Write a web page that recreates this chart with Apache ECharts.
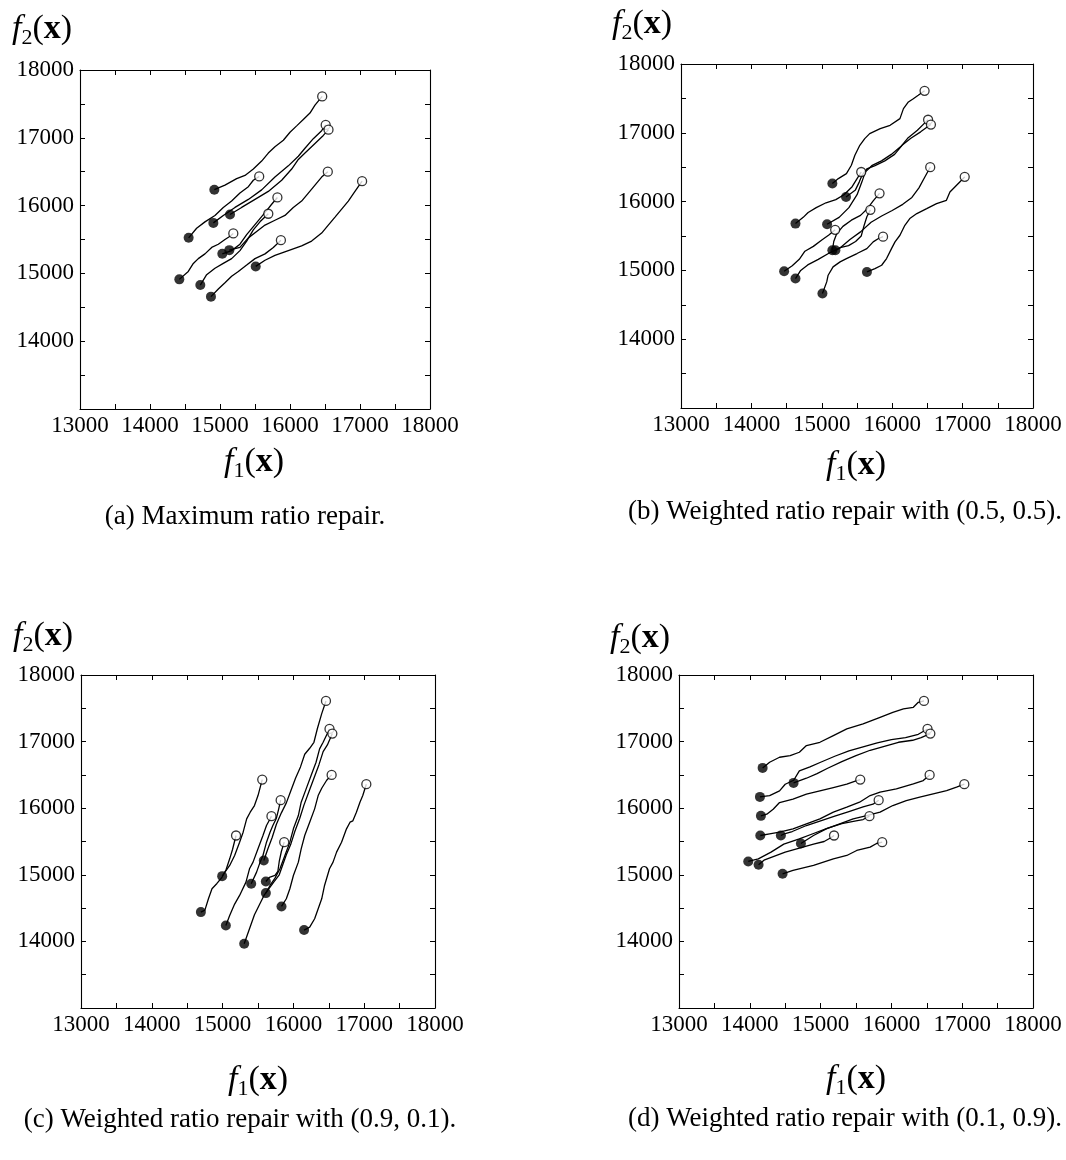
<!DOCTYPE html>
<html><head><meta charset="utf-8">
<script src="https://cdn.jsdelivr.net/npm/echarts@6/dist/echarts.min.js"></script>
<style>html,body{margin:0;padding:0;background:#fff}#c{width:1066px;height:1160px}</style>
</head><body><div id="c"></div>
<script>
// ---------- DATA ----------
const xTickLabels = [13000, 14000, 15000, 16000, 17000, 18000];
const yTickLabels = [14000, 15000, 16000, 17000, 18000];
const captions = [
  '(a) Maximum ratio repair.',
  '(b) Weighted ratio repair with (0.5, 0.5).',
  '(c) Weighted ratio repair with (0.9, 0.1).',
  '(d) Weighted ratio repair with (0.1, 0.9).'
];

// (a) trajectories: start (filled) -> end (open)
const panelA = [
  [[14919,16235],[15071,16303],[15238,16397],[15357,16445],[15476,16539],[15595,16657],[15690,16775],[15785,16869],[15905,16964],[16000,17082],[16095,17176],[16190,17271],[16285,17365],[16357,17483],[16460,17610]],
  [[14905,15745],[15047,15855],[15214,15973],[15405,16091],[15595,16232],[15785,16421],[15976,16586],[16119,16728],[16214,16846],[16333,16987],[16452,17105],[16510,17190]],
  [[15143,15868],[15309,15973],[15500,16091],[15690,16209],[15881,16374],[16024,16539],[16119,16681],[16214,16775],[16357,16917],[16476,17035],[16550,17120]],
  [[15133,15343],[15285,15383],[15405,15524],[15524,15619],[15643,15713],[15785,15784],[15928,15855],[16047,15973],[16166,16067],[16262,16185],[16357,16303],[16452,16421],[16540,16500]],
  [[15510,15103],[15643,15194],[15785,15265],[15976,15336],[16166,15406],[16309,15477],[16452,15595],[16547,15713],[16643,15831],[16738,15949],[16833,16067],[16928,16209],[17030,16360]],
  [[14552,15525],[14666,15666],[14785,15760],[14928,15855],[15047,15973],[15166,16067],[15285,16185],[15405,16279],[15476,16374],[15560,16430]],
  [[15033,15289],[15166,15336],[15285,15430],[15381,15572],[15476,15690],[15571,15808],[15666,15926],[15738,16020],[15820,16120]],
  [[14719,14828],[14809,14981],[14928,15076],[15047,15147],[15166,15218],[15285,15336],[15381,15477],[15476,15643],[15571,15761],[15690,15880]],
  [[14419,14912],[14547,15029],[14619,15147],[14690,15218],[14785,15288],[14881,15383],[14976,15430],[15071,15501],[15143,15548],[15190,15590]],
  [[14871,14657],[14976,14769],[15071,14863],[15166,14958],[15262,15029],[15381,15123],[15500,15218],[15643,15288],[15762,15383],[15870,15490]]
];

// (b)
const panelB = [
  [[15150,16262],[15235,16334],[15350,16406],[15420,16528],[15470,16673],[15540,16818],[15610,16915],[15680,16988],[15830,17060],[15970,17109],[16110,17206],[16160,17351],[16230,17448],[16300,17496],[16370,17545],[16460,17610]],
  [[15075,15671],[15246,15771],[15385,15912],[15501,16100],[15570,16287],[15617,16428],[15709,16522],[15848,16592],[15987,16686],[16126,16803],[16219,16920],[16358,17038],[16474,17155],[16510,17190]],
  [[15344,16068],[15478,16170],[15533,16287],[15570,16381],[15640,16475],[15756,16522],[15895,16592],[16034,16686],[16149,16827],[16265,16920],[16404,17014],[16497,17085],[16550,17120]],
  [[14626,14881],[14700,15000],[14800,15080],[14950,15160],[15100,15250],[15250,15320],[15400,15450],[15550,15560],[15700,15700],[15850,15790],[16000,15870],[16150,15960],[16280,16060],[16380,16200],[16460,16350],[16540,16500]],
  [[15641,14978],[15755,15027],[15850,15075],[15920,15172],[15990,15317],[16040,15414],[16110,15511],[16180,15656],[16250,15753],[16350,15826],[16490,15898],[16630,15971],[16770,16019],[16820,16140],[16890,16213],[16960,16286],[17030,16360]],
  [[14626,15680],[14736,15771],[14806,15842],[14921,15912],[15060,15983],[15199,16029],[15315,16100],[15431,16217],[15501,16334],[15560,16430]],
  [[15150,15293],[15170,15420],[15210,15530],[15300,15640],[15420,15730],[15550,15800],[15650,15900],[15730,16010],[15820,16120]],
  [[15193,15293],[15260,15330],[15380,15360],[15480,15420],[15560,15500],[15600,15650],[15640,15780],[15690,15880]],
  [[14465,14988],[14580,15068],[14680,15162],[14760,15279],[14880,15349],[15000,15443],[15100,15514],[15190,15590]],
  [[15009,14663],[15070,14833],[15090,14930],[15160,15051],[15260,15124],[15350,15172],[15500,15245],[15640,15317],[15730,15414],[15800,15460],[15870,15490]]
];

// (c)
const panelC = [
  [[15582,15215],[15640,15390],[15700,15560],[15760,15760],[15830,15930],[15900,16080],[15960,16250],[16030,16450],[16100,16620],[16160,16810],[16230,16900],[16290,16990],[16340,17200],[16400,17420],[16460,17610]],
  [[15611,14725],[15670,14840],[15740,14950],[15810,15090],[15880,15290],[15950,15490],[16000,15690],[16070,15890],[16110,16090],[16180,16290],[16250,16490],[16320,16690],[16370,16890],[16420,16990],[16510,17190]],
  [[15305,13965],[15400,14250],[15450,14400],[15520,14550],[15590,14700],[15660,14800],[15730,14900],[15800,15000],[15850,15150],[15900,15300],[15960,15450],[16020,15650],[16090,15850],[16150,16050],[16220,16250],[16290,16450],[16360,16650],[16420,16850],[16480,16950],[16550,17120]],
  [[15832,14525],[15900,14640],[15950,14790],[16000,14990],[16070,15190],[16110,15390],[16160,15590],[16230,15790],[16300,15990],[16350,16190],[16400,16300],[16470,16420],[16540,16500]],
  [[16151,14170],[16230,14215],[16300,14340],[16350,14490],[16400,14640],[16440,14840],[16510,15090],[16560,15190],[16610,15340],[16680,15490],[16750,15690],[16800,15790],[16840,15810],[16890,15940],[16940,16090],[16980,16190],[17030,16360]],
  [[14994,14980],[15100,15140],[15170,15290],[15240,15490],[15290,15640],[15340,15840],[15390,15940],[15450,16040],[15500,16190],[15530,16310],[15560,16430]],
  [[15404,14865],[15480,15040],[15530,15190],[15570,15290],[15620,15490],[15670,15640],[15710,15740],[15760,15850],[15790,15980],[15820,16120]],
  [[15046,14240],[15100,14390],[15170,14560],[15240,14690],[15330,14890],[15380,15090],[15430,15190],[15500,15390],[15570,15590],[15620,15740],[15690,15880]],
  [[14693,14440],[14750,14470],[14800,14640],[14850,14790],[14920,14870],[14990,14960],[15050,15080],[15100,15240],[15140,15380],[15190,15590]],
  [[15611,14900],[15660,14960],[15740,14990],[15780,15050],[15800,15200],[15830,15350],[15870,15490]]
];

// (d)
const panelD = [
  [[14181,16605],[14280,16690],[14420,16765],[14570,16790],[14700,16840],[14800,16940],[14990,16990],[15180,17090],[15370,17190],[15600,17265],[15840,17365],[16020,17440],[16170,17490],[16310,17515],[16380,17590],[16460,17610]],
  [[14143,16170],[14280,16190],[14420,16260],[14500,16360],[14620,16420],[14700,16560],[14850,16620],[15000,16690],[15200,16780],[15400,16860],[15600,16920],[15800,16980],[16000,17030],[16200,17060],[16380,17110],[16510,17190]],
  [[14618,16380],[14800,16450],[14950,16520],[15100,16600],[15300,16700],[15500,16790],[15700,16870],[15900,16930],[16100,16990],[16300,17020],[16420,17060],[16550,17120]],
  [[14148,15590],[14280,15615],[14420,15640],[14610,15690],[14800,15765],[14990,15840],[15180,15940],[15370,16015],[15550,16090],[15700,16190],[15840,16240],[16070,16290],[16310,16365],[16450,16415],[16540,16500]],
  [[14722,15470],[14900,15590],[15080,15690],[15270,15765],[15460,15840],[15650,15890],[15840,15940],[16020,16040],[16210,16115],[16400,16165],[16590,16215],[16780,16265],[16920,16315],[17030,16360]],
  [[14157,15885],[14240,15910],[14330,15985],[14420,16085],[14610,16135],[14800,16210],[14990,16260],[15180,16310],[15370,16360],[15500,16410],[15560,16430]],
  [[14439,15590],[14500,15620],[14600,15650],[14800,15740],[15000,15810],[15200,15880],[15400,15950],[15600,16020],[15740,16060],[15820,16120]],
  [[13978,15200],[14120,15240],[14300,15340],[14480,15460],[14700,15540],[14900,15620],[15100,15700],[15300,15770],[15500,15810],[15600,15830],[15690,15880]],
  [[14124,15150],[14200,15220],[14350,15280],[14500,15340],[14700,15400],[14900,15460],[15050,15500],[15150,15560],[15190,15590]],
  [[14463,15015],[14610,15065],[14900,15140],[15180,15240],[15370,15290],[15510,15365],[15700,15415],[15790,15470],[15870,15490]]
];

// ---------- LAYOUT / STYLE ----------
const FONT = '"Liberation Serif","Times New Roman",serif';
const panels = [panelA, panelB, panelC, panelD];
const boxes = [
  {left: 80,  top: 70,  width: 350, height: 339},
  {left: 681, top: 64,  width: 352, height: 344},
  {left: 81,  top: 675, width: 354, height: 333},
  {left: 679, top: 675, width: 354, height: 333}
];
const yLabelPos = [[12, 29], [612, 24], [13, 636], [610, 638]];
const xLabelPos = [[254, 462], [856, 465], [258, 1080], [856, 1079]];
const capPos = [[245, 517], [845, 512], [240, 1120], [845, 1119]];

const chart = echarts.init(document.getElementById('c'), null, {renderer: 'canvas'});

const grid = [], xAxis = [], yAxis = [], series = [], graphic = [];
const tick = {show: true, inside: true, length: 5, lineStyle: {color: '#000', width: 1}};
const line = {show: true, onZero: false, lineStyle: {color: '#000', width: 1.1}};

const rich = {
  i: {fontFamily: FONT, fontStyle: 'italic', fontSize: 34, color: '#000', verticalAlign: 'middle'},
  s: {fontFamily: FONT, fontSize: 22, color: '#000', verticalAlign: 'bottom'},
  n: {fontFamily: FONT, fontSize: 34, color: '#000', verticalAlign: 'middle'},
  b: {fontFamily: FONT, fontSize: 34, fontWeight: 'bold', color: '#000', verticalAlign: 'middle'}
};

panels.forEach((paths, i) => {
  grid.push(Object.assign({containLabel: false}, boxes[i]));
  const base = {type: 'value', gridIndex: i, min: 13000, max: 18000, interval: 500,
    axisLine: line, axisTick: tick, splitLine: {show: false}, minorTick: {show: false}};
  xAxis.push(Object.assign({}, base, {position: 'bottom',
    axisLabel: {show: true, margin: 5, color: '#000', fontSize: 23, fontFamily: FONT,
      showMinLabel: true, showMaxLabel: true,
      formatter: v => xTickLabels.includes(v) ? String(v) : ''}}));
  xAxis.push(Object.assign({}, base, {position: 'top', axisLabel: {show: false}}));
  yAxis.push(Object.assign({}, base, {position: 'left',
    axisLabel: {show: true, margin: 6, color: '#000', fontSize: 23, fontFamily: FONT,
      showMinLabel: true, showMaxLabel: true,
      formatter: v => yTickLabels.includes(v) ? String(v) : ''}}));
  yAxis.push(Object.assign({}, base, {position: 'right', axisLabel: {show: false}}));

  paths.forEach(p => {
    series.push({type: 'line', xAxisIndex: 2 * i, yAxisIndex: 2 * i, data: p,
      symbol: 'none', showSymbol: false, silent: true, animation: false,
      lineStyle: {color: '#000', width: 1.3}, z: 2});
  });
  series.push({type: 'scatter', xAxisIndex: 2 * i, yAxisIndex: 2 * i,
    data: paths.map(p => p[0]), symbol: 'circle', symbolSize: 10, silent: true, animation: false,
    itemStyle: {color: '#000'}, z: 4});
  series.push({type: 'scatter', xAxisIndex: 2 * i, yAxisIndex: 2 * i,
    data: paths.map(p => p[p.length - 1]), symbol: 'circle', symbolSize: 9, silent: true, animation: false,
    itemStyle: {color: '#fff', borderColor: '#000', borderWidth: 1.3}, z: 5});

  graphic.push({type: 'text', left: yLabelPos[i][0], top: yLabelPos[i][1] - 20, silent: true,
    style: {text: '{i|f}{s|2}{n|(}{b|x}{n|)}', rich: rich, lineHeight: 40}});
  graphic.push({type: 'text', x: xLabelPos[i][0], y: xLabelPos[i][1], silent: true,
    style: {text: '{i|f}{s|1}{n|(}{b|x}{n|)}', rich: rich, lineHeight: 40, align: 'center', verticalAlign: 'middle'}});
  graphic.push({type: 'text', x: capPos[i][0], y: capPos[i][1], silent: true,
    style: {text: captions[i], fontFamily: FONT, fontSize: 27, fill: '#000', align: 'center', verticalAlign: 'middle'}});
});

chart.setOption({
  animation: false,
  backgroundColor: '#fff',
  grid, xAxis, yAxis, series, graphic
});
</script>
</body></html>
